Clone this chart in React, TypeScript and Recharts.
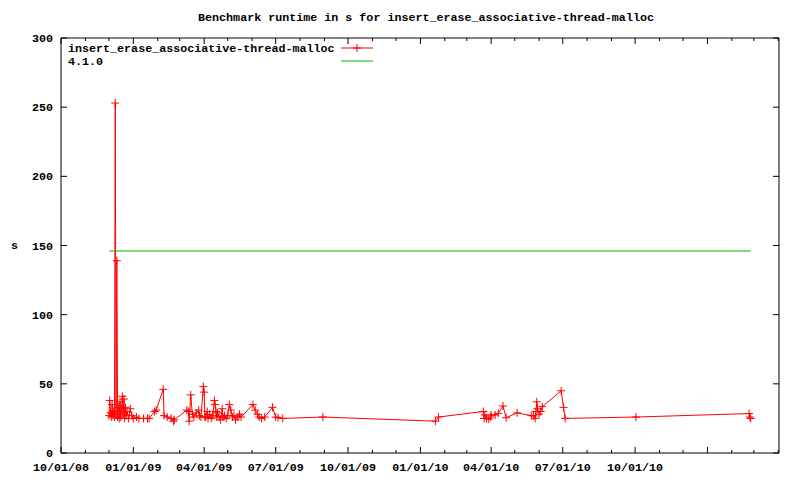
import React from 'react'
import { LineChart, Line, XAxis, YAxis, Legend } from 'recharts'

const runDates = [
  '2008-12-01', '2008-12-02', '2008-12-03', '2008-12-04', '2008-12-05', '2008-12-06', '2008-12-07',
  '2008-12-08', '2008-12-09', '2008-12-10', '2008-12-11', '2008-12-12', '2008-12-13', '2008-12-14',
  '2008-12-15', '2008-12-16', '2008-12-17', '2008-12-18', '2008-12-19', '2008-12-20', '2008-12-21',
  '2008-12-22', '2008-12-23', '2008-12-24', '2008-12-26', '2008-12-28', '2008-12-30', '2009-01-01',
  '2009-01-05', '2009-01-08', '2009-01-14', '2009-01-19', '2009-01-21', '2009-01-28', '2009-01-30',
  '2009-02-08', '2009-02-09', '2009-02-13', '2009-02-18', '2009-02-21', '2009-02-22', '2009-03-10',
  '2009-03-12', '2009-03-13', '2009-03-15', '2009-03-17', '2009-03-19', '2009-03-22', '2009-03-25',
  '2009-03-26', '2009-03-28', '2009-03-31', '2009-04-01', '2009-04-02', '2009-04-03', '2009-04-05',
  '2009-04-06', '2009-04-08', '2009-04-10', '2009-04-12', '2009-04-14', '2009-04-15', '2009-04-16',
  '2009-04-17', '2009-04-18', '2009-04-20', '2009-04-22', '2009-04-24', '2009-04-25', '2009-04-27',
  '2009-04-29', '2009-05-01', '2009-05-03', '2009-05-05', '2009-05-07', '2009-05-09', '2009-05-11',
  '2009-05-14', '2009-05-16', '2009-05-18', '2009-06-02', '2009-06-05', '2009-06-08', '2009-06-10',
  '2009-06-13', '2009-06-17', '2009-06-27', '2009-07-01', '2009-07-04', '2009-07-10', '2009-08-30',
  '2010-01-20', '2010-01-24', '2010-03-22', '2010-03-23', '2010-03-24', '2010-03-26',
  '2010-03-29', '2010-03-31', '2010-04-01', '2010-04-06', '2010-04-10', '2010-04-16', '2010-04-20',
  '2010-05-04', '2010-05-22', '2010-05-25', '2010-05-27', '2010-05-28', '2010-05-29', '2010-05-30',
  '2010-06-01', '2010-06-03', '2010-06-05', '2010-06-29', '2010-07-02', '2010-07-04', '2010-10-02',
  '2011-02-23', '2011-02-24', '2011-02-25',
]

const runtimes = [
  27, 38, 29, 26, 35, 27, 30,
  26, 253, 28, 139, 26, 33, 25,
  37, 26, 32, 41, 28, 39, 25,
  33, 27, 30, 25, 32, 27, 25,
  26, 25, 25, 25, 25, 30, 31,
  46, 27, 26, 25, 23, 24, 31,
  30, 23, 42, 28, 26, 29, 31,
  27, 26, 48, 44, 26, 26, 30,
  25, 28, 25, 27, 38, 35, 30,
  26, 29, 26, 24, 32, 26, 27,
  25, 27, 35, 31, 26, 27, 24,
  26, 28, 26, 35, 31, 28, 26,
  25, 26, 33, 26, 25.5, 25, 26,
  23, 26, 30, 25, 27.5, 25,
  24.5, 26, 27.5, 27.5, 28.7, 34, 25.5,
  29, 27, 26.8, 25, 30, 37, 32,
  28, 30, 33.5, 45, 33, 25, 26,
  28.5, 26, 25,
]

const baselineDates = ['2008-12-01', '2011-02-25']
const baselineValues = [146, 146]

const seriesNames = ['insert_erase_associative-thread-malloc', '4.1.0']

const monthTicks = [
  '2008-10-01', '2008-11-01', '2008-12-01', '2009-01-01', '2009-02-01', '2009-03-01', '2009-04-01',
  '2009-05-01', '2009-06-01', '2009-07-01', '2009-08-01', '2009-09-01', '2009-10-01', '2009-11-01',
  '2009-12-01', '2010-01-01', '2010-02-01', '2010-03-01', '2010-04-01', '2010-05-01', '2010-06-01',
  '2010-07-01', '2010-08-01', '2010-09-01', '2010-10-01', '2010-11-01', '2010-12-01', '2011-01-01',
  '2011-02-01', '2011-03-01', '2011-04-01',
]
const quarterTicks = [
  '2008-10-01', '2009-01-01', '2009-04-01', '2009-07-01', '2009-10-01',
  '2010-01-01', '2010-04-01', '2010-07-01', '2010-10-01', '2011-01-01',
]
const labeledTicks = [
  '2008-10-01', '2009-01-01', '2009-04-01', '2009-07-01', '2009-10-01',
  '2010-01-01', '2010-04-01', '2010-07-01', '2010-10-01',
]
const yTicks = [0, 50, 100, 150, 200, 250, 300]

const xStart = '2008-10-01'
const xEnd = '2011-04-02'

const FONT = '"Liberation Mono", "DejaVu Sans Mono", monospace'
const FONT_SIZE = 11.7
const RED = '#ff0000'
const GREEN = '#00b800'

function ts(s: string) {
  return Date.UTC(+s.slice(0, 4), +s.slice(5, 7) - 1, +s.slice(8, 10))
}

function fmt(t: number) {
  const d = new Date(t)
  const mm = String(d.getUTCMonth() + 1).padStart(2, '0')
  const dd = String(d.getUTCDate()).padStart(2, '0')
  const yy = String(d.getUTCFullYear() % 100).padStart(2, '0')
  return `${mm}/${dd}/${yy}`
}

const runData = runDates.map((d, i) => ({ t: ts(d), v: runtimes[i] }))
const baselineData = baselineDates.map((d, i) => ({ t: ts(d), v: baselineValues[i] }))
const xTicks = monthTicks.map(ts)
const majorSet = new Set(quarterTicks.map(ts))
const labelSet = new Set(labeledTicks.map(ts))
const domain = [ts(xStart), ts(xEnd)]

const textStyle = { fontFamily: FONT, fontWeight: 700, fontSize: FONT_SIZE, fill: '#000' }

function Plus(props: any) {
  const { cx, cy, index } = props
  if (cx == null || cy == null) return <g key={index} />
  return (
    <path key={index} d={`M${cx - 4},${cy}h8M${cx},${cy - 4}v8`} stroke={RED} strokeWidth={1} fill="none" />
  )
}

function BottomTick(props: any) {
  const { x, y, payload } = props
  const major = majorSet.has(payload.value)
  return (
    <g>
      <line x1={x} x2={x} y1={y} y2={y - (major ? 6 : 3)} stroke="#000" />
      {labelSet.has(payload.value) && (
        <text x={x} y={y + 18} textAnchor="middle" style={textStyle}>{fmt(payload.value)}</text>
      )}
    </g>
  )
}

function TopTick(props: any) {
  const { x, y, payload } = props
  const major = majorSet.has(payload.value)
  return <line x1={x} x2={x} y1={y} y2={y + (major ? 6 : 3)} stroke="#000" />
}

function LeftTick(props: any) {
  const { x, y, payload } = props
  return (
    <g>
      <line x1={x} x2={x + 6} y1={y} y2={y} stroke="#000" />
      <text x={x - 8} y={y + 4} textAnchor="end" style={textStyle}>{payload.value}</text>
    </g>
  )
}

function RightTick(props: any) {
  const { x, y } = props
  return <line x1={x} x2={x - 6} y1={y} y2={y} stroke="#000" />
}

function KeyBox(props: any) {
  const items = [...(props.payload || [])].sort(
    (a: any, b: any) => seriesNames.indexOf(a.value) - seriesNames.indexOf(b.value),
  )
  return (
    <svg width={320} height={32}>
      {items.map((it: any, i: number) => {
        const ly = 10 + i * 13
        return (
          <g key={i}>
            <text x={7} y={ly + 4} style={textStyle}>{it.value}</text>
            <line x1={280} x2={312} y1={ly} y2={ly} stroke={it.color} />
            {i === 0 && <path d={`M292,${ly}h8M296,${ly - 4}v8`} stroke={it.color} fill="none" />}
          </g>
        )
      })}
    </svg>
  )
}

export default function App() {
  return (
    <div style={{ position: 'absolute', left: 0, top: 0, width: 800, height: 480, background: '#fff' }}>
      <div style={{
        position: 'absolute', left: 0, width: 852, top: 10, textAlign: 'center',
        fontFamily: FONT, fontWeight: 700, fontSize: FONT_SIZE, lineHeight: '16px',
      }}>
        Benchmark runtime in s for insert_erase_associative-thread-malloc
      </div>
      <div style={{
        position: 'absolute', left: 11, top: 238, fontFamily: FONT, fontWeight: 700, fontSize: FONT_SIZE, lineHeight: '16px',
      }}>
        s
      </div>
      <LineChart width={800} height={480} margin={{ top: 37, right: 20, bottom: 26, left: 60 }}>
        <XAxis
          dataKey="t" type="number" domain={domain} ticks={xTicks} interval={0}
          height={1} tickSize={0} tickMargin={0} tickLine={false} tick={BottomTick}
          axisLine={{ stroke: '#000' }} allowDataOverflow
        />
        <XAxis
          xAxisId="top" orientation="top" dataKey="t" type="number" domain={domain} ticks={xTicks} interval={0}
          height={1} tickSize={0} tickMargin={0} tickLine={false} tick={TopTick}
          axisLine={{ stroke: '#000' }} allowDataOverflow
        />
        <YAxis
          type="number" domain={[0, 300]} ticks={yTicks} interval={0}
          width={1} tickSize={0} tickMargin={0} tickLine={false} tick={LeftTick}
          axisLine={{ stroke: '#000' }} allowDataOverflow
        />
        <YAxis
          yAxisId="right" orientation="right" type="number" domain={[0, 300]} ticks={yTicks} interval={0}
          width={1} tickSize={0} tickMargin={0} tickLine={false} tick={RightTick}
          axisLine={{ stroke: '#000' }} allowDataOverflow
        />
        <Legend
          layout="vertical" align="center" verticalAlign="middle"
          wrapperStyle={{ left: 61, top: 38, width: 320, height: 32 }}
          content={<KeyBox />}
        />
        <Line
          data={runData} dataKey="v" name={seriesNames[0]} type="linear"
          stroke={RED} strokeWidth={1} dot={Plus} activeDot={false} isAnimationActive={false}
        />
        <Line
          data={baselineData} dataKey="v" name={seriesNames[1]} type="linear"
          stroke={GREEN} strokeWidth={1} dot={false} activeDot={false} isAnimationActive={false}
        />
      </LineChart>
    </div>
  )
}
